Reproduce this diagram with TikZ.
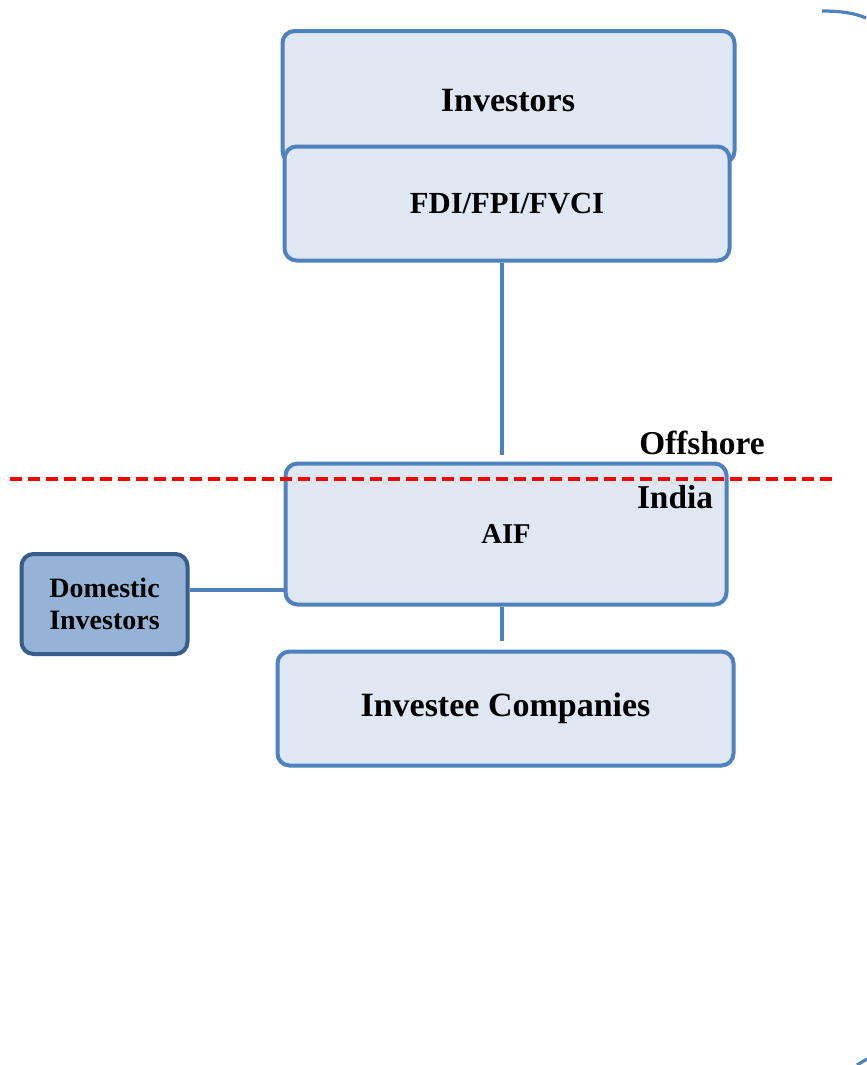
\documentclass[tikz,border=0pt]{standalone}
\usepackage{fontspec}
\setmainfont{Liberation Serif}
\definecolor{boxblue}{HTML}{4F81BD}
\definecolor{boxfill}{HTML}{DFE7F2}
\definecolor{domfill}{HTML}{95B3D7}
\definecolor{domline}{HTML}{385D8A}
\begin{document}
\begin{tikzpicture}[x=0.75pt,y=-0.75pt,
  entity/.style={draw=boxblue, line width=3pt, fill=boxfill, rounded corners=9pt,
     font=\bfseries\fontsize{25.5}{28}\selectfont, align=center, inner sep=0pt},
  conn/.style={draw=boxblue, line width=2.6pt},
  lbl/.style={font=\bfseries\fontsize{25}{28}\selectfont, inner sep=0pt}]
\useasboundingbox (0,0) rectangle (867,1065);
\fill[white] (0,0) rectangle (867,1065);
% arcs at right
\coordinate (a1) at (822,11);
\coordinate (a2) at (866,18);
\draw[boxblue, line width=2.4pt] (a1) .. controls (840,11) and (855,13) .. (a2);
\coordinate (b1) at (857,1065);
\coordinate (b2) at (867,1059);
\draw[boxblue, line width=2.4pt] (b1) -- (b2);
% boxes
\node[entity, minimum width=452pt*0.75, minimum height=132pt*0.75] (inv) at (508.5,97) {};
\node[lbl, font=\bfseries\fontsize{25.5}{28}\selectfont] (invt) at (508,101) {Investors};
\node[entity, font=\bfseries\fontsize{23}{28}\selectfont, minimum width=445pt*0.75, minimum height=114pt*0.75] (fdi) at (507,203.5) {FDI/FPI/FVCI};
\node[entity, font=\bfseries\fontsize{21.5}{28}\selectfont, minimum width=441pt*0.75, minimum height=141pt*0.75] (aif) at (506,534) {AIF};
\node[entity, minimum width=456pt*0.75, minimum height=114pt*0.75] (ic) at (505.5,708.5) {Investee Companies};
\node[draw=domline, line width=3pt, fill=domfill, rounded corners=9pt, align=center,
      font=\bfseries\fontsize{21}{24}\selectfont, minimum width=166pt*0.75, minimum height=100pt*0.75,
      inner sep=0pt] (dom) at (104.5,604) {Domestic\\Investors};
% connectors
\coordinate (c1) at (502,455);
\coordinate (c2) at (502,641);
\coordinate (c3) at (0,590);
\draw[conn] (fdi.south -| c1) -- (c1);
\draw[conn] (aif.south -| c2) -- (c2);
\draw[conn] (dom.east |- c3) -- (aif.west |- c3);
% boundary
\coordinate (d1) at (10,479);
\coordinate (d2) at (833,479);
\draw[red, line width=2.6pt, dash pattern=on 9pt off 4.5pt] (d1) -- (d2);
\node[lbl] (off) at (702,443) {Offshore};
\node[lbl] (ind) at (675,497) {India};
\end{tikzpicture}
\end{document}
